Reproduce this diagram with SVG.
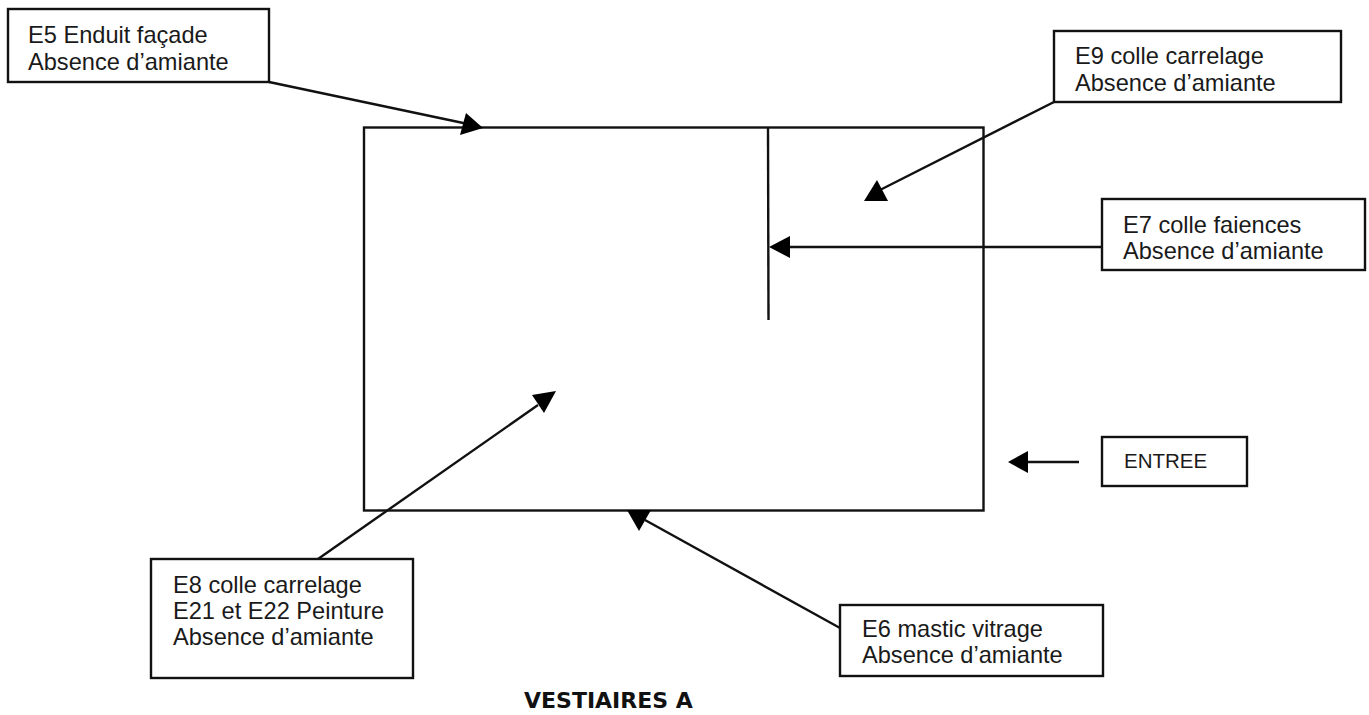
<svg xmlns="http://www.w3.org/2000/svg" width="1369" height="715" viewBox="0 0 1369 715">
<style>
.b{fill:#fff;stroke:#111;stroke-width:2.4}
.l{fill:none;stroke:#111;stroke-width:2.4}
.a{fill:#000}
text{font-family:"Liberation Sans",Arial,sans-serif;font-size:23.6px;fill:#1a1a1a}
</style>
<rect width="1369" height="715" fill="#fff"/>
<g id="room"><rect class="l" x="364" y="127.500" width="619.500" height="383"/><line class="l" x1="768" y1="128" x2="768.500" y2="320"/></g>
<g id="connectors">
<line class="l" x1="269" y1="82" x2="468" y2="124"/><polygon class="a" points="483,128 466,113 460,135"/>
<line class="l" x1="1054" y1="102" x2="880" y2="190"/><polygon class="a" points="864,201 888,201 877,180"/>
<line class="l" x1="1102" y1="247" x2="785" y2="247"/><polygon class="a" points="769,247 790,236 790,258"/>
<line class="l" x1="1079" y1="462" x2="1025" y2="462"/><polygon class="a" points="1008,462 1028,451 1028,473"/>
<line class="l" x1="840" y1="628" x2="645" y2="520"/><polygon class="a" points="627,510 651,510 639,531"/>
<line class="l" x1="318" y1="559" x2="538" y2="405"/><polygon class="a" points="532,395 556,391 544,413"/>
</g>
<g id="e5"><rect class="b" x="8" y="9" width="261" height="73"/><text x="28" y="43">E5 Enduit façade</text><text x="28" y="70">Absence d’amiante</text></g>
<g id="e9"><rect class="b" x="1054" y="31" width="287" height="71"/><text x="1075" y="64">E9 colle carrelage</text><text x="1075" y="91">Absence d’amiante</text></g>
<g id="e7"><rect class="b" x="1102" y="199" width="263" height="71"/><text x="1123" y="233">E7 colle faiences</text><text x="1123" y="259">Absence d’amiante</text></g>
<g id="entree"><rect class="b" x="1102" y="437" width="145" height="49"/><text x="1124" y="468" style="font-size:20.500px">ENTREE</text></g>
<g id="e8"><rect class="b" x="151" y="559" width="262" height="119"/><text x="173" y="593">E8 colle carrelage</text><text x="173" y="619">E21 et E22 Peinture</text><text x="173" y="645">Absence d’amiante</text></g>
<g id="e6"><rect class="b" x="840" y="605" width="263" height="71"/><text x="862" y="637">E6 mastic vitrage</text><text x="862" y="663">Absence d’amiante</text></g>
<text x="524" y="708" style="font-family:'DejaVu Sans',sans-serif;font-weight:700;font-size:22px;fill:#111">VESTIAIRES A</text>
</svg>
